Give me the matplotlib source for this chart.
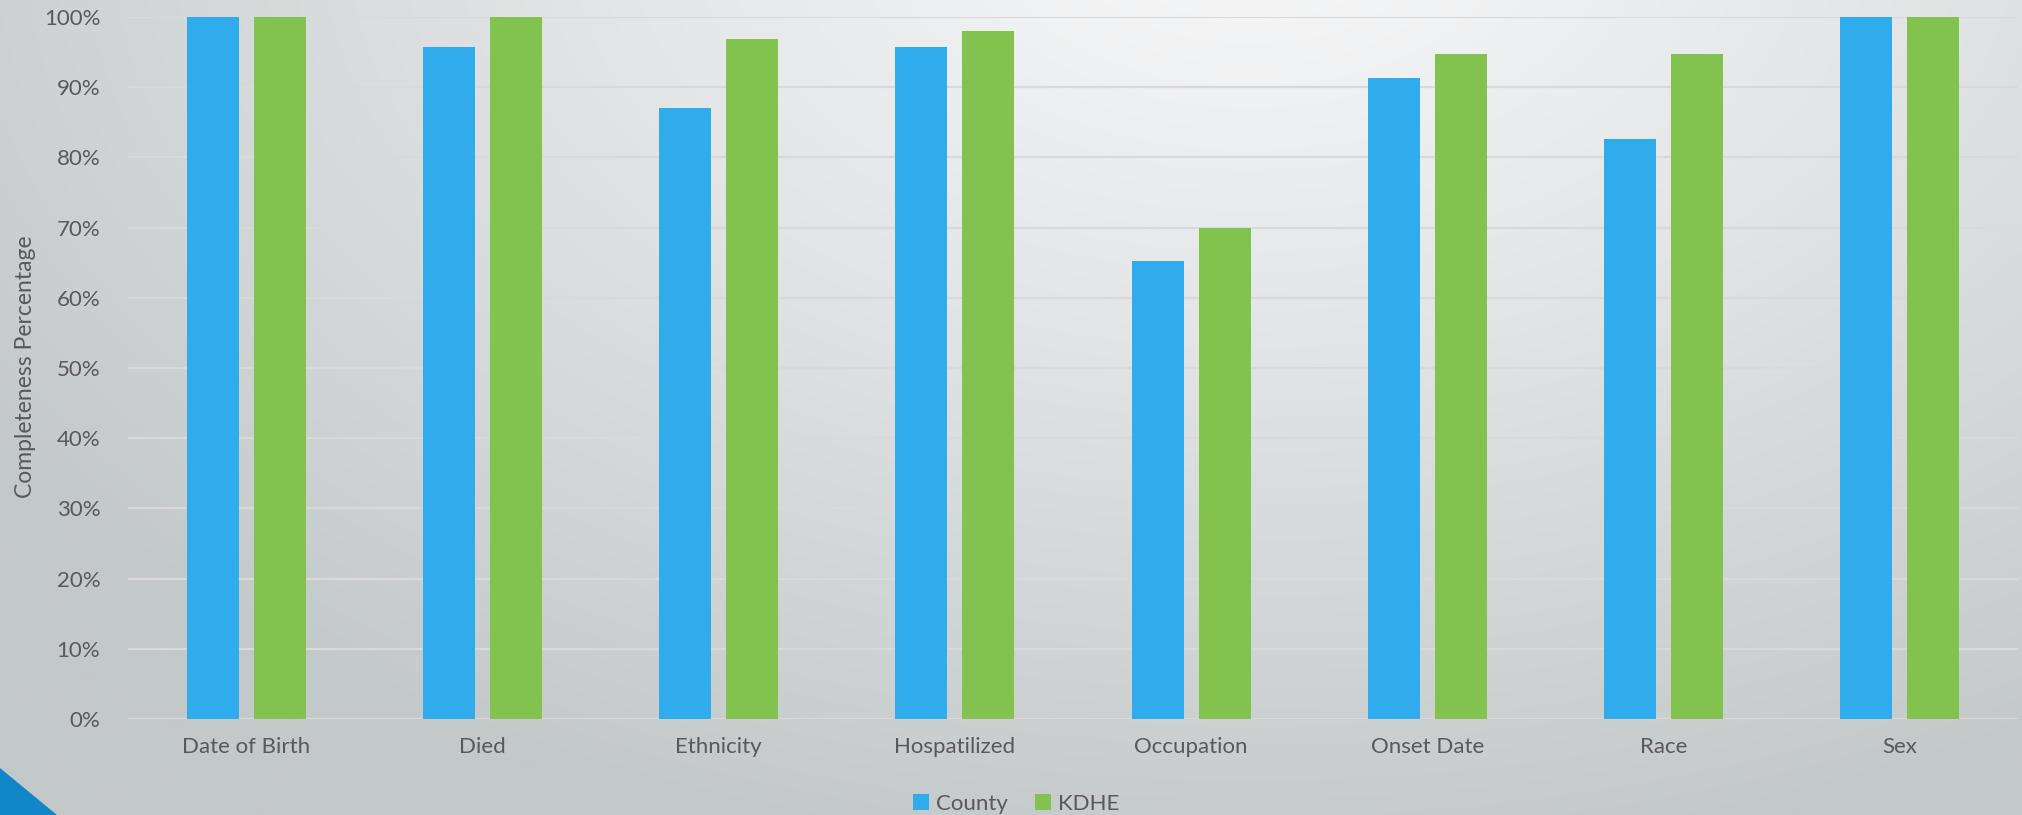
import numpy as np
import matplotlib
matplotlib.use("Agg")
import matplotlib.pyplot as plt
from matplotlib.patches import Polygon

categories = ["Date of Birth", "Died", "Ethnicity", "Hospatilized", "Occupation",
              "Onset Date", "Race", "Sex"]
county = [100.0, 95.7, 87.0, 95.7, 65.2, 91.3, 82.6, 100.0]
kdhe = [100.0, 100.0, 96.9, 98.0, 69.9, 94.8, 94.8, 100.0]
yticks = [0, 10, 20, 30, 40, 50, 60, 70, 80, 90, 100]
ytick_labels = [f"{v}%" for v in yticks]

plt.rcParams['font.family'] = ['Lato', 'DejaVu Sans']

W, H = 2022, 815
fig = plt.figure(figsize=(W / 100, H / 100), dpi=100)

# background gradient
bg = fig.add_axes([0, 0, 1, 1], zorder=-10)
yy, xx = np.mgrid[0:H:4, 0:W:4]
cx, cy = 1250, -80
d = np.sqrt(((xx - cx) / 1.6) ** 2 + (yy - cy) ** 2)
t = np.clip(d / 950.0, 0, 1) ** 1.1
top = np.array([248, 248, 249]) / 255.0
bot = np.array([195, 200, 201]) / 255.0
img = top[None, None, :] * (1 - t[..., None]) + bot[None, None, :] * t[..., None]
bg.imshow(img, extent=[0, W, H, 0], aspect='auto', interpolation='bilinear')
bg.add_patch(Polygon([[0, H - 47], [0, H], [57, H]], closed=True,
                     facecolor='#1287c8', edgecolor='none'))
bg.set_xlim(0, W)
bg.set_ylim(H, 0)
bg.axis('off')

ax = fig.add_axes([128 / W, (H - 719) / H, (2018 - 128) / W, (719 - 17) / H])
ax.patch.set_alpha(0)
x = np.arange(len(categories))
w = 0.22
off = 0.142
ax.bar(x - off, county, w, color='#30acec', label='County', zorder=3)
ax.bar(x + off, kdhe, w, color='#82c350', label='KDHE', zorder=3)

ax.set_xlim(-0.5, len(categories) - 0.5)
ax.set_ylim(0, 100)
ax.set_yticks(yticks)
ax.set_yticklabels(ytick_labels)
ax.set_xticks(x)
ax.set_xticklabels(categories)
ax.tick_params(axis='both', length=0, labelsize=16, colors='#595959')
ax.tick_params(axis='y', pad=20)
ax.tick_params(axis='x', pad=13)
ax.grid(axis='y', color='#d9d9d9', linewidth=1.6, zorder=0)
for s in ax.spines.values():
    s.set_visible(False)

fig.text(26 / W, 1 - 367 / H, "Completeness Percentage", rotation=90,
         ha='center', va='center', fontsize=16.5, color='#595959')

leg = fig.legend(loc='center', bbox_to_anchor=(1016 / W, 1 - 804 / H), ncol=2,
                 frameon=False, fontsize=16, handlelength=0.75, handleheight=0.75,
                 handletextpad=0.3, columnspacing=1.2, borderaxespad=0)
for txt in leg.get_texts():
    txt.set_color('#595959')

fig.savefig("out.png", dpi=100)
